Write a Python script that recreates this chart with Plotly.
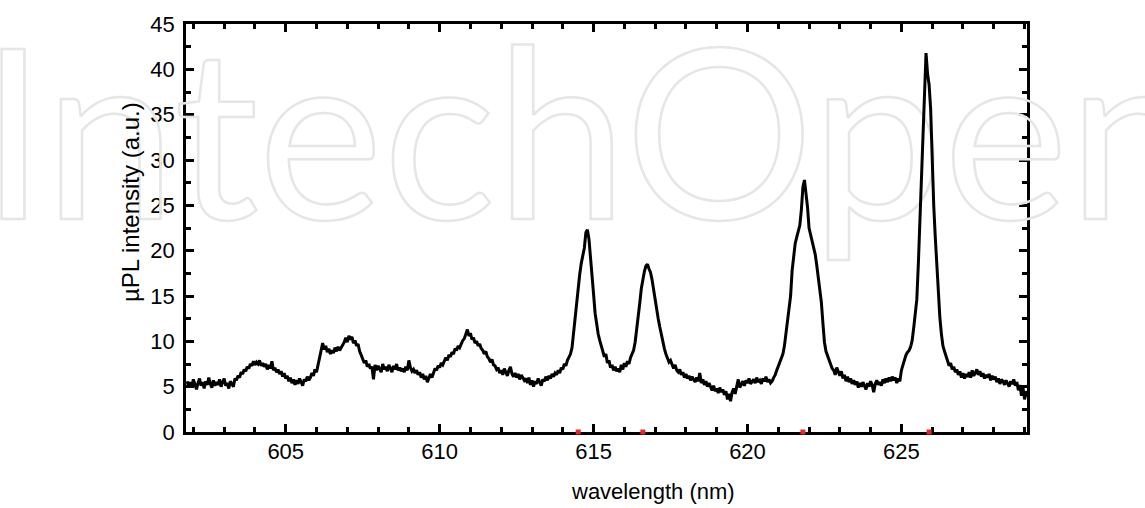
import numpy as np
import plotly.graph_objects as go

# wavelength grid (nm): 601.80 ... 629.10 in 0.05 nm steps
wl_start = 601.8
wl_step = 0.05

# µPL intensity (a.u.), one row per nm
intensity = [
    5.6, 4.9, 5.5, 5.0, 5.8, 5.2, 4.7, 5.4, 5.9, 5.1, 5.5, 4.8, 5.6, 5.2, 6.0, 5.3, 4.9, 5.7, 5.1, 5.5,
    5.2, 5.8, 5.0, 5.5, 5.9, 5.1, 5.4, 4.8, 5.6, 5.3, 5.0, 5.9, 5.7, 6.2, 6.0, 6.6, 6.4, 6.9, 6.7, 7.2,
    7.0, 7.5, 7.3, 7.8, 7.4, 7.7, 7.5, 7.9, 7.3, 7.6, 7.2, 7.5, 6.9, 7.4, 7.0, 7.8, 6.8, 7.1, 6.6, 6.9,
    6.4, 6.7, 6.1, 6.5, 5.9, 6.2, 5.6, 6.0, 5.4, 5.8, 5.2, 5.7, 5.3, 5.9, 5.5, 5.1, 5.8, 5.6, 6.1, 5.7,
    6.0, 6.5, 6.2, 6.9, 6.6, 7.4, 8.4, 9.3, 9.8, 9.1, 9.5, 8.8, 9.2, 8.6, 9.0, 8.7, 9.3, 8.9, 9.4, 9.0,
    9.3, 9.6, 9.9, 10.4, 9.9, 10.6, 10.2, 10.5, 9.8, 10.1, 9.5, 9.7, 8.9, 8.5, 8.0, 7.6, 7.9, 7.2, 7.5, 7.0,
    7.2, 5.8, 7.4, 6.8, 7.3, 7.0, 6.6, 7.5, 6.9, 7.2, 6.7, 7.4, 7.0, 6.6, 7.3, 6.9, 7.5, 6.8, 7.1, 6.7,
    7.0, 6.6, 7.2, 6.8, 7.9, 7.1, 6.7, 6.9, 6.5, 6.8, 6.3, 6.6, 6.0, 6.4, 5.8, 6.2, 5.5, 6.1, 6.4, 6.0,
    6.6, 7.0, 6.8, 7.3, 7.1, 7.6, 7.4, 7.9, 8.2, 7.9, 8.5, 8.3, 8.8, 8.6, 9.2, 9.0, 9.5, 9.3, 9.8, 10.1,
    10.3, 10.8, 11.3, 10.6, 10.9, 10.2, 10.4, 9.8, 10.0, 9.5, 9.7, 9.2, 9.0, 8.6, 8.9, 8.3, 8.1, 7.7, 8.0, 7.4,
    7.3, 6.9, 7.1, 6.5, 6.8, 6.3, 7.0, 6.6, 6.2, 6.8, 7.2, 6.4, 6.1, 6.5, 6.0, 6.4, 5.8, 6.3, 6.0, 5.7,
    5.9, 5.4, 6.0, 5.2, 5.7, 5.0, 5.6, 5.3, 5.9, 5.5, 5.1, 5.8, 5.6, 6.1, 5.7, 6.2, 5.9, 6.4, 6.1, 6.5,
    6.3, 6.8, 6.5, 7.1, 6.9, 7.5, 7.3, 7.9, 8.2, 8.6, 9.3, 11.0, 12.6, 13.8, 15.5, 17.4, 18.6, 19.5, 20.3, 22.0,
    22.3, 21.3, 19.5, 17.3, 15.2, 13.1, 11.9, 10.8, 10.1, 9.4, 8.9, 8.3, 8.6, 7.6, 7.9, 7.1, 7.4, 6.8, 7.2, 6.7,
    7.0, 6.6, 7.4, 6.9, 7.6, 7.2, 7.8, 7.5, 8.2, 8.6, 9.0, 9.9, 11.2, 12.6, 14.2, 15.8, 16.9, 17.7, 18.3, 18.5,
    18.0, 17.6, 16.8, 15.6, 14.5, 13.6, 12.5, 11.6, 10.7, 9.8, 9.2, 8.6, 8.1, 7.7, 7.9, 7.3, 7.0, 7.4, 6.8, 6.6,
    6.9, 6.3, 6.6, 6.0, 6.4, 5.9, 6.2, 5.7, 6.1, 5.8, 5.5, 6.0, 5.6, 6.5, 5.4, 5.8, 5.2, 5.6, 5.0, 5.4,
    5.0, 4.6, 5.1, 4.5, 4.8, 4.3, 4.9, 4.4, 4.7, 4.1, 4.5, 3.6, 4.2, 3.4, 4.4, 4.8, 4.2, 5.0, 5.8, 4.9,
    5.2, 5.6, 5.1, 5.7, 5.4, 5.9, 5.3, 5.6, 5.8, 5.4, 6.0, 5.5, 5.7, 5.3, 5.9, 5.6, 6.1, 5.5, 5.8, 5.4,
    5.6, 6.0, 6.3, 6.8, 7.2, 7.6, 8.0, 8.6, 9.5, 10.9, 12.1, 13.6, 15.0, 17.8, 19.6, 20.8, 21.5, 22.2, 22.8, 24.5,
    27.0, 27.8, 26.4, 24.8, 22.5, 21.8, 21.0, 20.4, 19.6, 18.4, 17.2, 15.8, 14.3, 12.0, 9.9, 8.9, 8.4, 7.9, 7.6, 7.0,
    6.8, 6.3, 7.1, 6.5, 6.2, 6.7, 5.9, 6.3, 5.6, 6.1, 5.5, 5.9, 5.3, 5.7, 5.2, 5.6, 4.9, 5.4, 5.0, 5.5,
    5.1, 4.7, 5.4, 5.0, 5.6, 5.2, 4.4, 5.3, 5.7, 5.2, 5.5, 5.1, 5.8, 5.4, 5.9, 5.5, 6.0, 5.6, 6.1, 5.7,
    6.0, 5.4, 5.9, 5.6, 6.8, 7.4, 8.0, 8.5, 8.8, 9.0, 9.4, 10.1, 11.5, 13.0, 14.6, 18.5, 23.5, 28.5, 33.0, 37.5,
    41.8, 39.5, 38.3, 35.6, 29.8, 25.0, 21.5, 18.2, 15.0, 12.6, 10.8, 9.5, 8.9, 8.3, 7.9, 7.3, 7.6, 6.9, 7.2, 6.6,
    6.9, 6.3, 6.7, 6.0, 6.5, 5.9, 6.4, 6.1, 6.6, 6.0, 6.8, 6.2, 6.5, 6.9, 6.3, 6.7, 6.1, 6.5, 5.9, 6.3,
    6.0, 6.4, 5.7, 6.2, 5.8, 6.1, 5.5, 5.9, 5.3, 5.8, 5.6, 5.2, 5.7, 5.4, 5.0, 5.6, 5.3, 5.8, 5.1, 5.5,
    4.6, 5.2, 4.0, 4.9, 3.6, 4.5, 3.9,
]
wavelength = [round(wl_start + wl_step * i, 2) for i in range(len(intensity))]

# red markers on the wavelength axis (nm)
marker_wl = [614.5, 616.6, 621.8, 625.9]
marker_val = [0, 0, 0, 0]

x_range = [601.76, 629.08]
y_range = [0, 45]
x_ticks = [605, 610, 615, 620, 625]
y_ticks = [0, 5, 10, 15, 20, 25, 30, 35, 40, 45]

FONT = "Liberation Sans, Arial, sans-serif"

fig = go.Figure()

# watermark text (behind the data)
fig.add_trace(go.Scatter(
    x=[614.88], y=[30.0], mode="text", text=["IntechOpen"],
    textposition="middle center",
    textfont=dict(family="Lato, sans-serif", size=236, color="#e4e7e4"),
    hoverinfo="skip", showlegend=False, cliponaxis=False,
))

fig.add_trace(go.Scatter(
    x=wavelength, y=intensity, mode="lines",
    line=dict(color="black", width=3),
    showlegend=False,
))

fig.add_trace(go.Scatter(
    x=marker_wl, y=marker_val, mode="markers",
    marker=dict(symbol="square", size=5, color="#e8262a"),
    cliponaxis=False, showlegend=False,
))

axis_common = dict(
    showline=True, linecolor="black", linewidth=2.5, mirror="allticks",
    ticks="inside", ticklen=8, tickwidth=2.5, tickcolor="black",
    showgrid=False, zeroline=False, layer="below traces",
    tickfont=dict(family=FONT, size=22, color="black"),
)

fig.update_xaxes(
    range=x_range, tickvals=x_ticks, ticklabelstandoff=-2,
    minor=dict(dtick=1, tick0=600, ticks="inside", ticklen=5, tickwidth=2.5, tickcolor="black"),
    **axis_common,
)
fig.update_yaxes(
    range=y_range, tickvals=y_ticks, ticklabelstandoff=4,
    minor=dict(dtick=2.5, tick0=0, ticks="inside", ticklen=5, tickwidth=2.5, tickcolor="black"),
    **axis_common,
)

fig.add_annotation(
    text="wavelength (nm)", xref="paper", yref="paper",
    x=(653 - 186) / (1027 - 186), y=-(492 - 432) / (432 - 24),
    showarrow=False, xanchor="center", yanchor="middle",
    font=dict(family=FONT, size=22, color="black"),
)
fig.add_annotation(
    text="µPL intensity (a.u.)", xref="paper", yref="paper",
    x=-(186 - 130) / (1027 - 186), y=(432 - 202) / (432 - 24),
    showarrow=False, xanchor="center", yanchor="middle", textangle=-90,
    font=dict(family=FONT, size=24, color="black"),
)

fig.update_layout(
    width=1145, height=508, autosize=False,
    margin=dict(l=186, r=118, t=24, b=76),
    paper_bgcolor="white", plot_bgcolor="white",
    showlegend=False,
)

post = """
var gd = document.getElementById('{plot_id}');
function outline(){
  gd.querySelectorAll('.textpoint text').forEach(function(t){
    if (t.textContent === 'IntechOpen') {
      t.style.fill = 'none';
      t.style.stroke = '#e4e7e4';
      t.style.strokeWidth = '2.5px';
    }
  });
}
outline();
gd.on('plotly_afterplot', outline);
"""

fig.write_html("out.html", post_script=post)
